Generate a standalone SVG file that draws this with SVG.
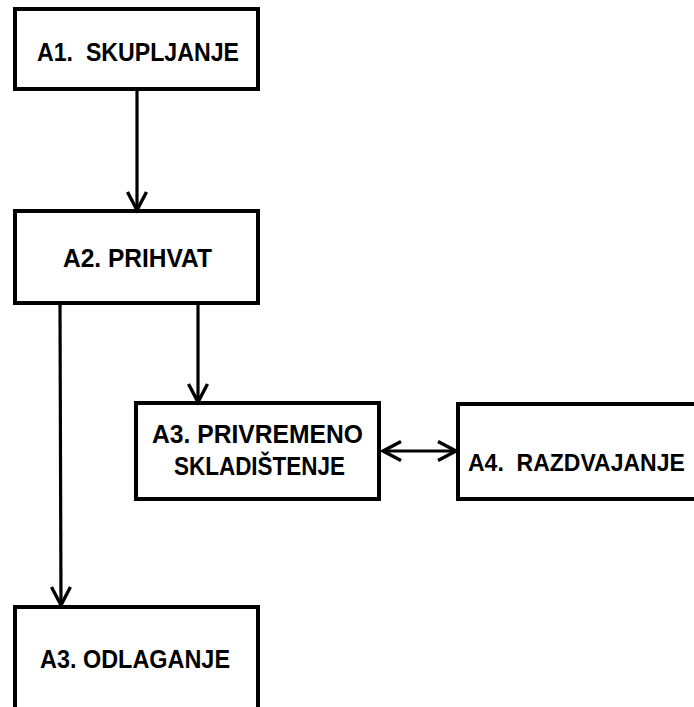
<svg xmlns="http://www.w3.org/2000/svg" width="694" height="707" viewBox="0 0 694 707">
  <style>
    .box { fill: #ffffff; stroke: #000000; stroke-width: 4; }
    .lbl { font-family: "Liberation Sans", Arial, sans-serif; font-weight: bold; font-size: 26px; fill: #000000; }
    .conn { fill: none; stroke: #000000; stroke-width: 3.2; }
  </style>
  <defs>
    <marker id="ah" markerUnits="userSpaceOnUse" markerWidth="26" markerHeight="26" viewBox="-23 -13 26 26" refX="0" refY="0" orient="auto-start-reverse" overflow="visible">
      <path d="M-18,-9.5 L0,0 L-18,9.5" fill="none" stroke="#000000" stroke-width="3.4" stroke-linejoin="miter"/>
    </marker>
  </defs>
  <rect width="694" height="707" fill="#ffffff"/>

  <g id="A1">
    <rect class="box" x="15" y="9" width="243" height="80"/>
    <text class="lbl" x="37" y="61" xml:space="preserve" textLength="202" lengthAdjust="spacingAndGlyphs">A1.  SKUPLJANJE</text>
  </g>

  <g id="A2">
    <rect class="box" x="15" y="211" width="243" height="92"/>
    <text class="lbl" x="63" y="267" textLength="149" lengthAdjust="spacingAndGlyphs">A2. PRIHVAT</text>
  </g>

  <g id="A3_privremeno">
    <rect class="box" x="136" y="403" width="243" height="96"/>
    <text class="lbl" x="152" y="443" textLength="211" lengthAdjust="spacingAndGlyphs">A3. PRIVREMENO</text>
    <text class="lbl" x="174" y="475" textLength="171" lengthAdjust="spacingAndGlyphs">SKLADIŠTENJE</text>
  </g>

  <g id="A4">
    <rect class="box" x="458" y="404" width="260" height="95"/>
    <text class="lbl" x="468" y="471" style="font-size:23px" xml:space="preserve">A4.  RAZDVAJANJE</text>
  </g>

  <g id="A3_odlaganje">
    <rect class="box" x="15" y="607" width="243" height="120"/>
    <text class="lbl" x="40" y="668" textLength="190" lengthAdjust="spacingAndGlyphs">A3. ODLAGANJE</text>
  </g>

  <g id="connectors">
    <path class="conn" d="M137,91 L137,210" marker-end="url(#ah)"/>
    <path class="conn" d="M198,305 L198,402" marker-end="url(#ah)"/>
    <path class="conn" d="M60,305 L61,605" marker-end="url(#ah)"/>
    <path class="conn" d="M383,451 L456,451" marker-start="url(#ah)" marker-end="url(#ah)"/>
  </g>
</svg>
